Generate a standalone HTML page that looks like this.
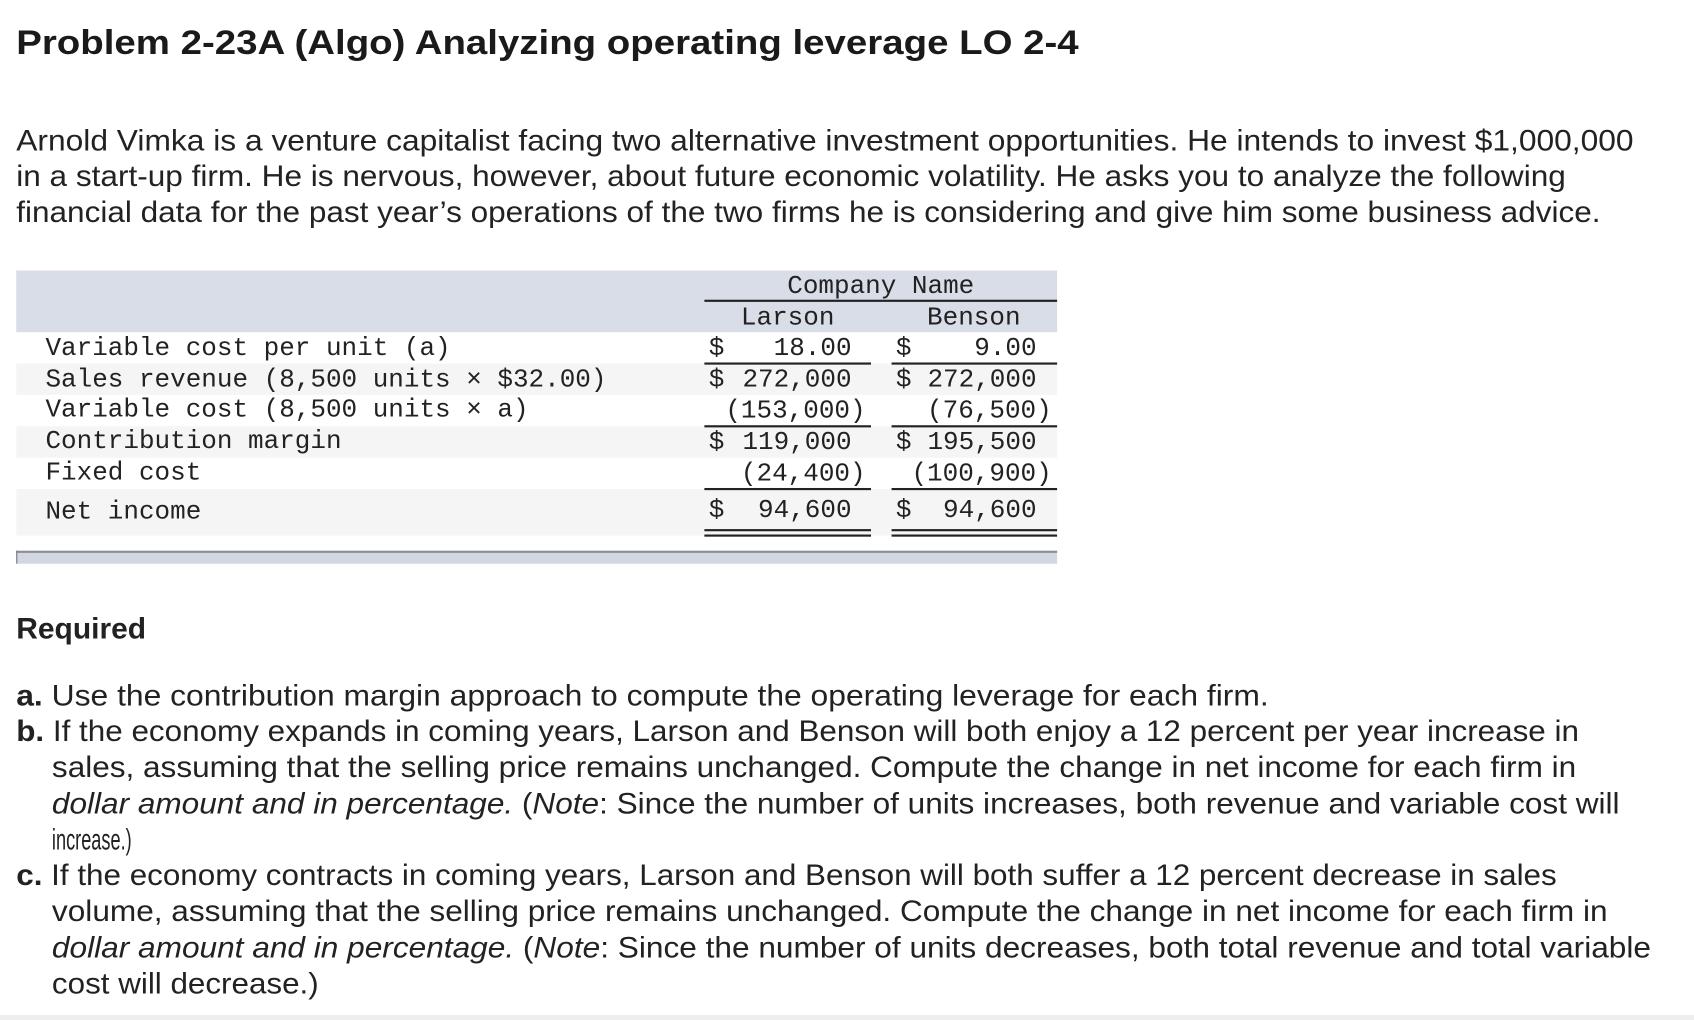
<!DOCTYPE html>
<html><head><meta charset="utf-8">
<style>
html,body{margin:0;padding:0;background:#fff;}
body{width:1694px;height:1020px;overflow:hidden;position:relative;}
#wrap{position:absolute;left:0;top:0;width:1566px;height:943px;transform:scale(1.082);transform-origin:0 0;}
.t{position:absolute;white-space:nowrap;font-family:"Liberation Sans",sans-serif;color:#222;transform-origin:0 50%;}
.l{font-size:27px;line-height:33px;height:33px;}
.m{position:absolute;white-space:pre;font-family:"Liberation Mono",monospace;font-size:24px;color:#222;line-height:29px;}
.r{text-align:right;width:200px;}
.c{text-align:center;width:300px;}
.band{position:absolute;}
.rule{position:absolute;background:#222;height:2px;}
</style></head><body>
<div id="wrap">
<div class="t" data-w="982" style="left:15px;top:20px;font-size:32px;font-weight:bold;line-height:38px;color:#1a1a1a;">Problem 2-23A (Algo) Analyzing operating leverage LO 2-4</div>

<div class="t l" data-w="1495" style="left:15px;top:114px;">Arnold Vimka is a venture capitalist facing two alternative investment opportunities. He intends to invest $1,000,000</div>
<div class="t l" data-w="1432" style="left:15px;top:147px;">in a start-up firm. He is nervous, however, about future economic volatility. He asks you to analyze the following</div>
<div class="t l" data-w="1464" style="left:15px;top:180px;">financial data for the past year’s operations of the two firms he is considering and give him some business advice.</div>

<div>
<div class="band" style="left:15px;top:250px;width:962px;height:57px;background:#d9dde8;"></div>
<div class="band" style="left:15px;top:336px;width:962px;height:29px;background:#f5f5f5;"></div>
<div class="band" style="left:15px;top:394px;width:962px;height:29px;background:#f5f5f5;"></div>
<div class="band" style="left:15px;top:452px;width:962px;height:43px;background:#f5f5f5;"></div>
<div class="band" style="left:15px;top:509px;width:962px;height:12px;background:#d3d7e1;border-top:2px solid #8a8f99;box-sizing:border-box;"></div>
<div class="band" style="left:15px;top:509px;width:1px;height:12px;background:#777;"></div>

<div class="m c" style="left:664px;top:251px;">Company Name</div>
<div class="rule" style="left:651px;top:277px;width:326px;"></div>
<div class="m c" style="left:578px;top:280px;">Larson</div>
<div class="m c" style="left:750px;top:280px;">Benson</div>

<div class="m" style="left:42px;top:308px;">Variable cost per unit (a)</div>
<div class="m" style="left:42px;top:337px;">Sales revenue (8,500 units × $32.00)</div>
<div class="m" style="left:42px;top:365px;">Variable cost (8,500 units × a)</div>
<div class="m" style="left:42px;top:394px;">Contribution margin</div>
<div class="m" style="left:42px;top:423px;">Fixed cost</div>
<div class="m" style="left:42px;top:459px;">Net income</div>

<div class="m" style="left:655px;top:308px;">$</div>
<div class="m r" style="left:587px;top:308px;">18.00</div>
<div class="m" style="left:828px;top:308px;">$</div>
<div class="m r" style="left:758px;top:308px;">9.00</div>
<div class="rule" style="left:651px;top:335px;width:154px;"></div>
<div class="rule" style="left:824px;top:335px;width:153px;"></div>
<div class="m" style="left:655px;top:337px;">$</div>
<div class="m r" style="left:587px;top:337px;">272,000</div>
<div class="m" style="left:828px;top:337px;">$</div>
<div class="m r" style="left:758px;top:337px;">272,000</div>
<div class="m r" style="left:600px;top:366px;">(153,000)</div>
<div class="m r" style="left:772px;top:366px;">(76,500)</div>
<div class="rule" style="left:651px;top:393px;width:154px;"></div>
<div class="rule" style="left:824px;top:393px;width:153px;"></div>
<div class="m" style="left:655px;top:395px;">$</div>
<div class="m r" style="left:587px;top:395px;">119,000</div>
<div class="m" style="left:828px;top:395px;">$</div>
<div class="m r" style="left:758px;top:395px;">195,500</div>
<div class="m r" style="left:600px;top:424px;">(24,400)</div>
<div class="m r" style="left:772px;top:424px;">(100,900)</div>
<div class="rule" style="left:651px;top:451px;width:154px;"></div>
<div class="rule" style="left:824px;top:451px;width:153px;"></div>
<div class="m" style="left:655px;top:458px;">$</div>
<div class="m r" style="left:587px;top:458px;">94,600</div>
<div class="m" style="left:828px;top:458px;">$</div>
<div class="m r" style="left:758px;top:458px;">94,600</div>
<div class="rule" style="left:651px;top:489px;width:154px;"></div>
<div class="rule" style="left:651px;top:494px;width:154px;"></div>
<div class="rule" style="left:824px;top:489px;width:153px;"></div>
<div class="rule" style="left:824px;top:494px;width:153px;"></div>
</div>

<div class="t" data-w="120" style="left:15px;top:565px;font-size:27px;font-weight:bold;line-height:33px;">Required</div>

<div class="t l" data-w="1158" style="left:15px;top:627px;"><b>a.</b> Use the contribution margin approach to compute the operating leverage for each firm.</div>
<div class="t l" data-w="1444" style="left:15px;top:660px;"><b>b.</b> If the economy expands in coming years, Larson and Benson will both enjoy a 12 percent per year increase in</div>
<div class="t l" data-w="1409" style="left:48px;top:693px;">sales, assuming that the selling price remains unchanged. Compute the change in net income for each firm in</div>
<div class="t l" data-w="1449" style="left:48px;top:727px;"><i>dollar amount and in percentage.</i> (<i>Note</i>: Since the number of units increases, both revenue and variable cost will</div>
<div class="t l" data-w="74" style="left:48px;top:760px;">increase.)</div>
<div class="t l" data-w="1424" style="left:15px;top:793px;"><b>c.</b> If the economy contracts in coming years, Larson and Benson will both suffer a 12 percent decrease in sales</div>
<div class="t l" data-w="1438" style="left:48px;top:826px;">volume, assuming that the selling price remains unchanged. Compute the change in net income for each firm in</div>
<div class="t l" data-w="1478" style="left:48px;top:860px;"><i>dollar amount and in percentage.</i> (<i>Note</i>: Since the number of units decreases, both total revenue and total variable</div>
<div class="t l" data-w="247" style="left:48px;top:893px;">cost will decrease.)</div>
<div class="band" style="left:0;top:938px;width:1566px;height:5px;background:#eeeeee;"></div>
</div>
<script>
document.querySelectorAll('[data-w]').forEach(function(el){
  var w=parseFloat(el.getAttribute('data-w'));
  var cw=el.scrollWidth;
  if(cw>0) el.style.transform='scaleX('+(w/cw)+')';
});
</script>
</body></html>
